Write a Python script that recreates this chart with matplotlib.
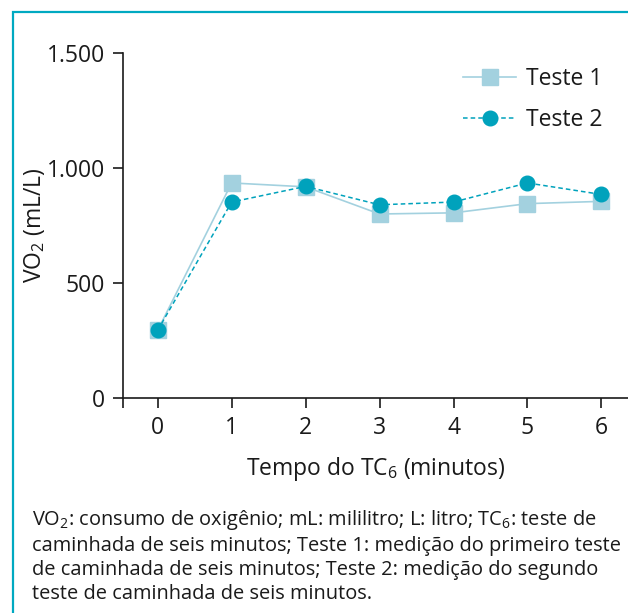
import matplotlib
matplotlib.use('Agg')
import matplotlib.pyplot as plt
from matplotlib.patches import Rectangle

plt.rcParams['font.family'] = ['Open Sans', 'DejaVu Sans']
plt.rcParams['mathtext.fontset'] = 'custom'
plt.rcParams['mathtext.rm'] = 'Open Sans'
plt.rcParams['mathtext.it'] = 'Open Sans'

minutos = [0, 1, 2, 3, 4, 5, 6]
teste1 = [295, 935, 918, 800, 805, 845, 855]
teste2 = [295, 852, 920, 840, 852, 935, 885]
yticks = [0, 500, 1000, 1500]
ytick_labels = ['0', '500', '1.000', '1.500']

C1 = '#a3d1df'
C2 = '#00a2bc'
FRAME = '#00a9c1'
TXT = '#1a1a1a'

W, H = 628, 613
fig = plt.figure(figsize=(W / 100, H / 100), dpi=100)
fig.patch.set_facecolor('white')

# teal frame (left, top, right run off the picture)
fig.add_artist(Rectangle((13 / W, -0.1), 1.2, (H - 12) / H + 0.1,
                         transform=fig.transFigure, fill=False,
                         ec=FRAME, lw=1.6))

ax = fig.add_axes([123 / W, 1 - 398 / H, 1 - 123 / W, (398 - 53) / H])
ax.set_facecolor('none')

ax.plot(minutos, teste1, color=C1, lw=1.2, marker='s', ms=11.5,
        mec=C1, mfc=C1, label='Teste 1', zorder=3)
ax.plot(minutos, teste2, color=C2, lw=1.1, ls=(0, (3, 2)), marker='o',
        ms=10.5, mec=C2, mfc=C2, label='Teste 2', zorder=4)

x0 = -0.47
ax.set_xlim(x0, 6.36)
ax.set_ylim(0, 1500)
ax.set_xticks(minutos)
ax.set_xticks([x0], minor=True)
ax.set_yticks(yticks)
ax.set_yticklabels(ytick_labels)

for s in ['top', 'right']:
    ax.spines[s].set_visible(False)
for s in ['left', 'bottom']:
    ax.spines[s].set_color(TXT)
    ax.spines[s].set_linewidth(1.2)

ax.tick_params(axis='both', which='both', direction='out', length=7,
               width=1.2, color=TXT, labelsize=16.5, labelcolor=TXT, pad=6)
ax.tick_params(axis='x', which='minor', length=7)

ax.set_ylabel('VO$_2$ (mL/L)', fontsize=16.5, color=TXT, labelpad=0)
ax.set_xlabel('Tempo do TC$_6$ (minutos)', fontsize=16.5, color=TXT,
              labelpad=11)

leg = ax.legend(loc='upper right', bbox_to_anchor=(0.968, 0.985),
                frameon=False, fontsize=16.5, handlelength=2.3,
                handletextpad=0.45, labelspacing=0.72, borderaxespad=0)
for t in leg.get_texts():
    t.set_color(TXT)

caption = ('VO$_2$: consumo de oxigênio; mL: mililitro; L: litro; TC$_6$: teste de\n'
           'caminhada de seis minutos; Teste 1: medição do primeiro teste\n'
           'de caminhada de seis minutos; Teste 2: medição do segundo\n'
           'teste de caminhada de seis minutos.')
fig.text(32 / W, 1 - 508 / H, caption, ha='left', va='top', fontsize=14.4,
         color=TXT, linespacing=1.26)

fig.savefig('out.png', dpi=100, facecolor='white')
